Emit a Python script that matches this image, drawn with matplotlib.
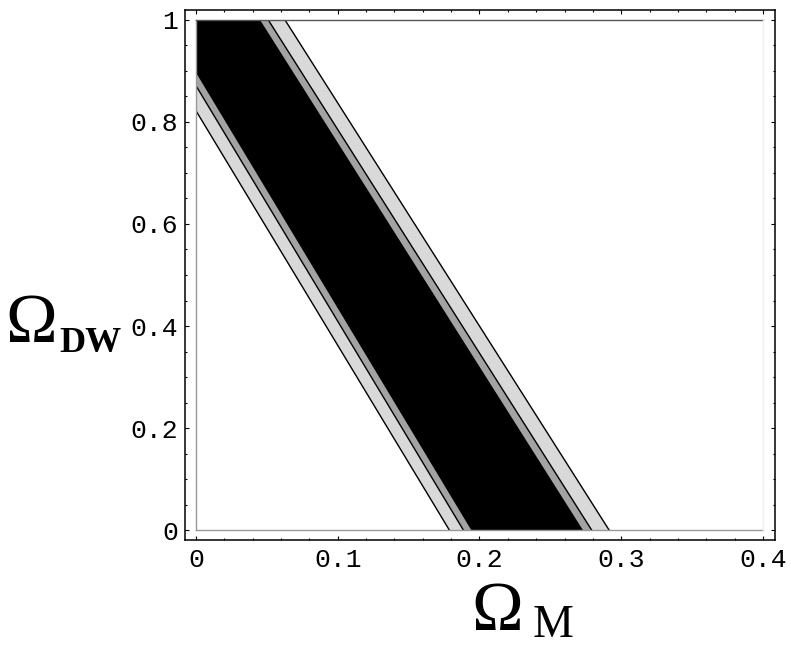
import numpy as np
import matplotlib.pyplot as plt
from matplotlib.patches import Rectangle
from matplotlib.ticker import FixedLocator, FixedFormatter, MultipleLocator

# contour lines: x position of each line at y = 0 and y = 1
y_edge = [0.0, 1.0]
left_outer = [0.1787, -0.0387]
left_mid = [0.1886, -0.0279]
left_inner = [0.1940, -0.0225]
right_inner = [0.2728, 0.0451]
right_mid = [0.2791, 0.0510]
right_outer = [0.2914, 0.0628]

x_ticks = [0.0, 0.1, 0.2, 0.3, 0.4]
x_labels = ["0", "0.1", "0.2", "0.3", "0.4"]
y_ticks = [0.0, 0.2, 0.4, 0.6, 0.8, 1.0]
y_labels = ["0", "0.2", "0.4", "0.6", "0.8", "1"]

fig = plt.figure(figsize=(7.91, 6.48), dpi=100)
ax = fig.add_axes([185 / 791, 108 / 648, 590 / 791, 530 / 648])

clip = Rectangle((0, 0), 0.4, 1.0, transform=ax.transData, facecolor="none", edgecolor="none")
ax.add_patch(clip)

bands = [
    (left_outer, right_outer, "#d9d9d9"),
    (left_mid, right_mid, "#a3a3a3"),
    (left_inner, right_inner, "black"),
]
for lo, hi, col in bands:
    p = ax.fill_betweenx(y_edge, lo, hi, color=col, linewidth=0)
    p.set_clip_path(clip)

for line in [left_outer, left_mid, right_mid, right_outer]:
    l, = ax.plot(line, y_edge, color="black", lw=1.0)
    l.set_clip_path(clip)

# plot region box drawn by the contour plot
ax.plot([0, 0], [0, 1], color="#999999", lw=1.0)
ax.plot([0, 0.4], [0, 0], color="#999999", lw=1.0)
ax.plot([0, 0.4], [1, 1], color="#555555", lw=1.0)
ax.plot([0.4, 0.4], [0, 1], color="#eeeeee", lw=1.0)

ax.set_xlim(-0.00776, 0.40847)
ax.set_ylim(-0.0196, 1.0196)

ax.xaxis.set_major_locator(FixedLocator(x_ticks))
ax.xaxis.set_major_formatter(FixedFormatter(x_labels))
ax.xaxis.set_minor_locator(MultipleLocator(0.02))
ax.yaxis.set_major_locator(FixedLocator(y_ticks))
ax.yaxis.set_major_formatter(FixedFormatter(y_labels))
ax.yaxis.set_minor_locator(MultipleLocator(0.05))

ax.tick_params(which="both", direction="in", top=True, right=True, width=0.8, color="black")
ax.tick_params(which="major", length=2.6)
ax.tick_params(which="minor", length=1.4)
ax.tick_params(axis="x", pad=6)
ax.tick_params(axis="y", pad=5)
for lab in ax.get_xticklabels() + ax.get_yticklabels():
    lab.set_fontfamily("Liberation Mono")
    lab.set_fontsize(19)
for s in ax.spines.values():
    s.set_linewidth(1.1)

serif = "Liberation Serif"
fig.text(5 / 791, 1 - 342 / 648, "\u03a9", fontsize=50, family=serif, ha="left", va="baseline")
fig.text(59 / 791, 1 - 352 / 648, "DW", fontsize=26, family=serif, weight="bold", ha="left", va="baseline")
fig.text(471 / 791, 1 - 630 / 648, "\u03a9", fontsize=50, family=serif, ha="left", va="baseline")
fig.text(533 / 791, 1 - 637 / 648, "M", fontsize=33, family=serif, ha="left", va="baseline")

fig.savefig("out.png", dpi=100)
